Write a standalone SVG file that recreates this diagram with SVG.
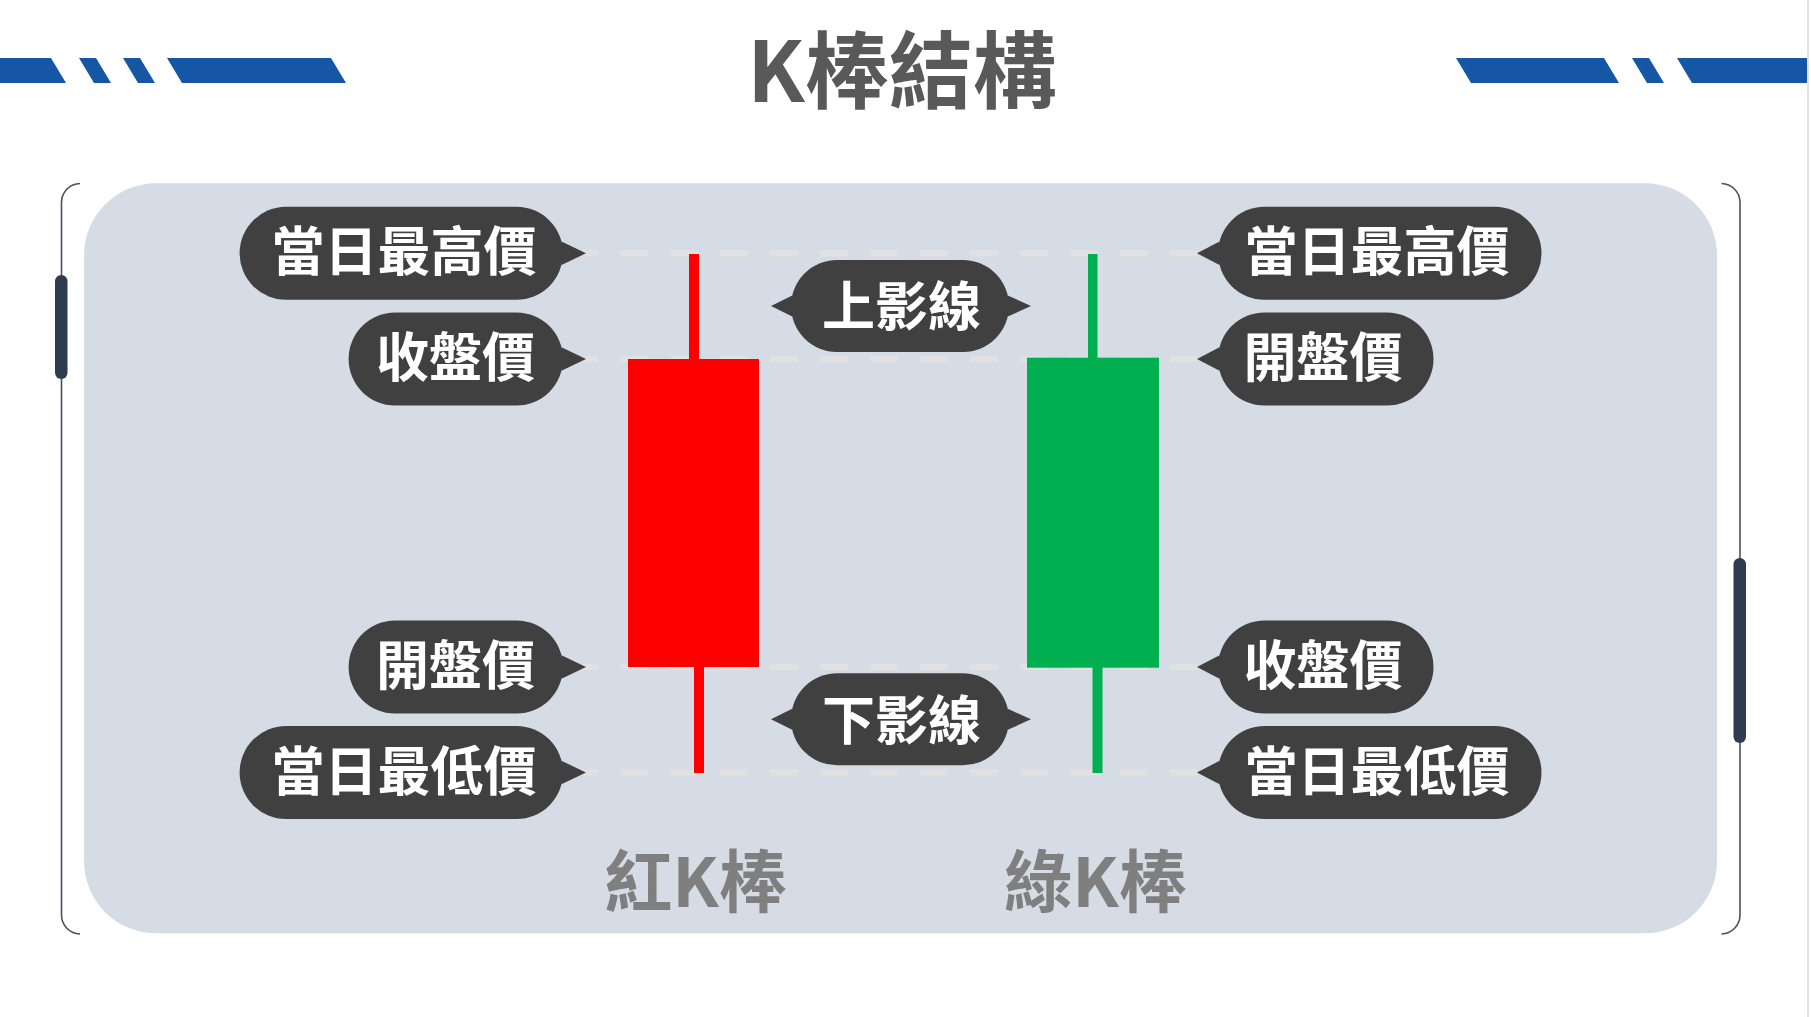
<svg xmlns="http://www.w3.org/2000/svg" width="1811" height="1017" viewBox="0 0 1811 1017">
  <style>
    .bar { fill: #1557A5; }
    .pill { fill: #404040; }
    .pt { fill: #FFFFFF; font-family: "Noto Sans CJK TC", "Noto Sans CJK SC", sans-serif; font-weight: 700; font-size: 53px; text-anchor: middle; }
    .dash { stroke: #E1E1E1; stroke-width: 6; stroke-dasharray: 28 22; fill: none; }
    .brk { fill: none; stroke: #4A5262; stroke-width: 1.6; }
    .knob { fill: #2F3B4F; }
    .cap { font-family: "Noto Sans CJK TC", "Noto Sans CJK SC", sans-serif; font-weight: 700; text-anchor: middle; }
  </style>
  <rect x="0" y="0" width="1811" height="1017" fill="#FFFFFF"/>
  <rect x="1807" y="0" width="2" height="1017" fill="#E3E3E3"/>

  <g id="header-bars">
    <polygon class="bar" points="0,58 51,58 66,83 0,83"/>
    <polygon class="bar" points="79,58 96,58 111,83 94,83"/>
    <polygon class="bar" points="123,58 140,58 155,83 138,83"/>
    <polygon class="bar" points="167,58 331,58 346,83 182,83"/>
    <polygon class="bar" points="1456,58 1604,58 1619,83 1471,83"/>
    <polygon class="bar" points="1632,58 1649,58 1664,83 1647,83"/>
    <polygon class="bar" points="1677,58 1807,58 1807,83 1692,83"/>
  </g>

  <text id="title" class="cap" x="902" y="102" font-size="84" fill="#595959">K棒結構</text>

  <g id="frame">
    <path class="brk" d="M80,183.5 A19,19 0 0 0 61.5,202 L61.5,915 A19,19 0 0 0 80,934"/>
    <path class="brk" d="M1721.5,183.5 A19,19 0 0 1 1740,202 L1740,915 A19,19 0 0 1 1721.5,934"/>
    <rect class="knob" x="55" y="275" width="12.5" height="104" rx="6.25"/>
    <rect class="knob" x="1733.5" y="558" width="12.5" height="185" rx="6.25"/>
  </g>

  <rect id="panel" x="84" y="183.3" width="1633" height="750" rx="72" fill="#D6DCE5"/>

  <g id="connectors">
    <line class="dash" x1="570" y1="253.5" x2="1197" y2="253.5"/>
    <line class="dash" x1="570" y1="359" x2="1197" y2="359"/>
    <line class="dash" x1="570" y1="667" x2="1197" y2="667"/>
    <line class="dash" x1="570" y1="772.5" x2="1197" y2="772.5"/>
  </g>

  <g id="red-candle">
    <rect x="689" y="254" width="10" height="106" fill="#FF0000"/>
    <rect x="694" y="666" width="10" height="107" fill="#FF0000"/>
    <rect x="628" y="359" width="131" height="308" fill="#FF0000"/>
  </g>
  <g id="green-candle">
    <rect x="1088" y="254" width="9.5" height="105" fill="#00B050"/>
    <rect x="1092.5" y="667" width="10" height="106" fill="#00B050"/>
    <rect x="1027" y="357.7" width="132" height="310" fill="#00B050"/>
  </g>

  <g id="label-left-high">
    <rect class="pill" x="239.6" y="206.8" width="323.4" height="93" rx="46.5"/>
    <polygon class="pill" points="561.5,241.6 586,253.3 561.5,265"/>
    <text class="pt" x="404" y="271">當日最高價</text>
  </g>
  <g id="label-left-close">
    <rect class="pill" x="348.6" y="312.5" width="214.4" height="93" rx="46.5"/>
    <polygon class="pill" points="561.5,347.3 586,359 561.5,370.7"/>
    <text class="pt" x="455.5" y="377">收盤價</text>
  </g>
  <g id="label-left-open">
    <rect class="pill" x="348.6" y="620.5" width="214.4" height="93" rx="46.5"/>
    <polygon class="pill" points="561.5,655.3 586,667 561.5,678.7"/>
    <text class="pt" x="455.5" y="685">開盤價</text>
  </g>
  <g id="label-left-low">
    <rect class="pill" x="239.6" y="726" width="323.4" height="93" rx="46.5"/>
    <polygon class="pill" points="561.5,760.8 586,772.5 561.5,784.2"/>
    <text class="pt" x="404" y="790.5">當日最低價</text>
  </g>

  <g id="label-right-high">
    <rect class="pill" x="1218" y="206.8" width="323.5" height="93" rx="46.5"/>
    <polygon class="pill" points="1219.5,241.6 1197,253.3 1219.5,265"/>
    <text class="pt" x="1377" y="271">當日最高價</text>
  </g>
  <g id="label-right-open">
    <rect class="pill" x="1218" y="312.5" width="215.5" height="93" rx="46.5"/>
    <polygon class="pill" points="1219.5,347.3 1197,359 1219.5,370.7"/>
    <text class="pt" x="1323" y="377">開盤價</text>
  </g>
  <g id="label-right-close">
    <rect class="pill" x="1218" y="620.5" width="215.5" height="93" rx="46.5"/>
    <polygon class="pill" points="1219.5,655.3 1197,667 1219.5,678.7"/>
    <text class="pt" x="1323" y="685">收盤價</text>
  </g>
  <g id="label-right-low">
    <rect class="pill" x="1218" y="726" width="323.5" height="93" rx="46.5"/>
    <polygon class="pill" points="1219.5,760.8 1197,772.5 1219.5,784.2"/>
    <text class="pt" x="1377" y="790.5">當日最低價</text>
  </g>

  <g id="label-upper-shadow">
    <rect class="pill" x="791" y="260" width="218" height="92" rx="46"/>
    <polygon class="pill" points="792.2,295.5 771,306 792.2,316.5"/>
    <polygon class="pill" points="1007.8,295.5 1031,306 1007.8,316.5"/>
    <text class="pt" x="901.5" y="326">上影線</text>
  </g>
  <g id="label-lower-shadow">
    <rect class="pill" x="791" y="673.3" width="218" height="92" rx="46"/>
    <polygon class="pill" points="792.2,708.8 771,719.3 792.2,729.8"/>
    <polygon class="pill" points="1007.8,708.8 1031,719.3 1007.8,729.8"/>
    <text class="pt" x="901.5" y="740">下影線</text>
  </g>

  <text id="caption-red" class="cap" x="695.5" y="907" font-size="68" fill="#7F7F7F">紅K棒</text>
  <text id="caption-green" class="cap" x="1095.5" y="907" font-size="68" fill="#7F7F7F">綠K棒</text>
</svg>
